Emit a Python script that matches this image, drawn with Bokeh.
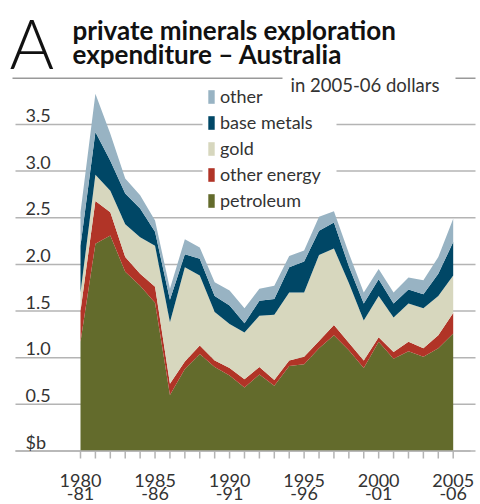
from bokeh.plotting import figure
from bokeh.models import Range1d, Label, Legend, LegendItem, ColumnDataSource
from bokeh.core.properties import value
from bokeh.embed import file_html
from bokeh.resources import INLINE

# ---------------- data ($ billion, 2005-06 dollars) ----------------
years = list(range(1980, 2006))
petroleum = [1.17, 2.22, 2.31, 1.92, 1.77, 1.59, 0.60, 0.88, 1.04, 0.90, 0.81, 0.68, 0.82,
             0.70, 0.91, 0.93, 1.10, 1.24, 1.08, 0.89, 1.17, 0.99, 1.07, 1.01, 1.10, 1.26]
other_energy = [0.33, 0.46, 0.25, 0.16, 0.13, 0.17, 0.12, 0.08, 0.09, 0.07, 0.08, 0.09, 0.08,
                0.06, 0.06, 0.08, 0.08, 0.11, 0.08, 0.08, 0.05, 0.07, 0.10, 0.09, 0.14, 0.22]
gold = [0.20, 0.28, 0.23, 0.35, 0.39, 0.44, 0.66, 1.01, 0.75, 0.52, 0.47, 0.50, 0.55,
        0.70, 0.73, 0.69, 0.92, 0.82, 0.64, 0.43, 0.44, 0.37, 0.41, 0.43, 0.42, 0.40]
base_metals = [0.50, 0.46, 0.32, 0.33, 0.31, 0.15, 0.24, 0.14, 0.18, 0.17, 0.20, 0.10, 0.16,
               0.17, 0.27, 0.33, 0.26, 0.28, 0.18, 0.18, 0.18, 0.15, 0.15, 0.15, 0.24, 0.36]
other = [0.36, 0.41, 0.29, 0.16, 0.14, 0.12, 0.12, 0.16, 0.12, 0.15, 0.16, 0.16, 0.13,
         0.14, 0.12, 0.12, 0.15, 0.12, 0.14, 0.12, 0.11, 0.12, 0.13, 0.15, 0.18, 0.25]

series_keys = ["petroleum", "other_energy", "gold", "base_metals", "other"]
series_labels = ["petroleum", "other energy", "gold", "base metals", "other"]
series_colors = ["#636b2c", "#b13427", "#d7d7be", "#004766", "#98b3c3"]

y_ticks = [0, 0.5, 1.0, 1.5, 2.0, 2.5, 3.0, 3.5]
y_tick_labels = ["$b", "0.5", "1.0", "1.5", "2.0", "2.5", "3.0", "3.5"]
x_label_years = [1980, 1985, 1990, 1995, 2000, 2005]
x_label_line1 = ["1980", "1985", "1990", "1995", "2000", "2005"]
x_label_line2 = ["-81", "-86", "-91", "-96", "-01", "-06"]

# ---------------- layout ----------------
W, H = 480, 504
PX = 14.908   # pixels per year
PY = 93.3     # pixels per $b
X0P, Y0P = 80.0, 450.5  # page position of (1980, 0)


def dx(px):
    return 1980 + (px - X0P) / PX


def dy(py):
    return (Y0P - py) / PY


FONT = "Lato"
TXT = "#333333"
GRID = "#b4b4b4"

p = figure(width=W, height=H,
           x_range=Range1d(dx(0), dx(W)), y_range=Range1d(dy(H), dy(0)),
           output_backend="svg", toolbar_location=None,
           x_axis_location=None, y_axis_location=None,
           min_border=0, outline_line_color=None,
           background_fill_color="white", border_fill_color="white")
p.grid.visible = False

# grid lines (interrupted where the legend sits)
gx0, gx1, gy = [], [], []
for t in y_ticks:
    if t >= 3.0:
        gx0 += [dx(15), dx(336)]
        gx1 += [dx(202), dx(475)]
        gy += [t, t]
    else:
        gx0.append(dx(15))
        gx1.append(dx(475))
        gy.append(t)
p.segment(x0=gx0, y0=gy, x1=gx1, y1=gy, line_color=GRID, line_width=1.5)

# stacked areas
src = ColumnDataSource(dict(year=years, petroleum=petroleum, other_energy=other_energy,
                            gold=gold, base_metals=base_metals, other=other))
areas = p.varea_stack(stackers=series_keys, x="year", color=series_colors, source=src)

# x axis line + ticks
p.segment(x0=[dx(15)], y0=[0], x1=[dx(470)], y1=[0], line_color=GRID, line_width=1.5)
p.segment(x0=years, y0=[0] * len(years), x1=years, y1=[dy(458)] * len(years),
          line_color=GRID, line_width=1.5)

# y tick labels (above grid lines)
p.text(x=[dx(25)] * len(y_ticks), y=y_ticks, text=y_tick_labels, text_font=value(FONT),
       text_font_size="18px", text_color=TXT, text_baseline="alphabetic", y_offset=-9)

# x tick labels
p.text(x=x_label_years, y=[dy(480)] * 6, text=x_label_line1, text_font=value(FONT),
       text_font_size="18px", text_color=TXT, text_align="center", text_baseline="alphabetic")
p.text(x=x_label_years, y=[dy(493)] * 6, text=x_label_line2, text_font=value(FONT),
       text_font_size="18px", text_color=TXT, text_align="center", text_baseline="alphabetic")

# title block
p.add_layout(Label(x=dx(9), y=dy(42), text="A", text_font="Lato Light", text_font_size="68px",
                   text_color="#111111", text_baseline="alphabetic"))
p.add_layout(Label(x=dx(72), y=dy(45), text="private minerals exploration", text_font=FONT,
                   text_font_style="bold", text_font_size="26px", text_color="#111111"))
p.add_layout(Label(x=dx(72), y=dy(69), text="expenditure \u2013 Australia", text_font=FONT,
                   text_font_style="bold", text_font_size="26px", text_color="#111111"))
p.segment(x0=[dx(12), dx(455)], y0=[dy(77.7)] * 2, x1=[dx(282), dx(475)], y1=[dy(77.7)] * 2,
          line_color="#999999", line_width=1.5)
p.add_layout(Label(x=dx(290), y=dy(95), text="in 2005-06 dollars", text_font=FONT,
                   text_font_size="18.5px", text_color=TXT))

# legend (top item = top layer), transparent so it does not hide the subtitle
items = [LegendItem(label=lab, renderers=[r]) for lab, r in zip(series_labels, areas)][::-1]
legend = Legend(items=items, location=(207, 293), orientation="vertical",
                glyph_width=8, glyph_height=17, label_height=17, spacing=4,
                padding=4, margin=0, label_standoff=5,
                label_text_font=FONT, label_text_font_size="18px", label_text_color=TXT,
                background_fill_alpha=0.0, border_line_color=None)
p.add_layout(legend, "center")

open("out.html", "w").write(file_html(p, INLINE))
